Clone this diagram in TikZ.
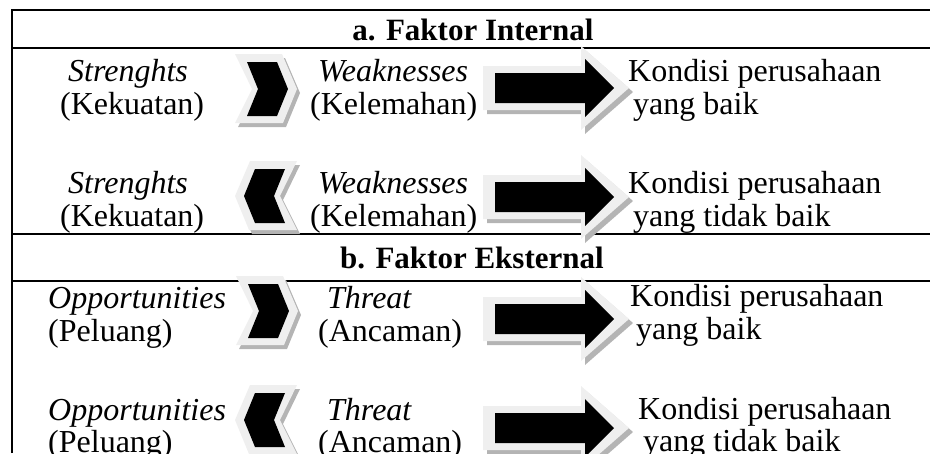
\documentclass[tikz,border=0pt]{standalone}
\usepackage{fontspec}
\setmainfont{Liberation Serif}
\definecolor{glowc}{HTML}{EFEFEF}
\definecolor{shadc}{HTML}{B4B4B4}
\begin{document}
\begin{tikzpicture}[x=1pt,y=-1pt,
  txt/.style={anchor=base west,inner sep=0pt,font=\fontsize{32}{34}\selectfont},
  hdr/.style={anchor=base,inner sep=0pt,font=\fontsize{31}{33}\selectfont\bfseries},
  frame/.style={line width=2pt},
  shad/.style={fill=shadc},
  glow/.style={fill=glowc},
  blk/.style={fill=black},
  rchev/.pic={
    \path[shad,shift={(3,4)}] (-32,-35) -- (15,-35) -- (30,0) -- (16,34) -- (-32,34) -- (-15,0) -- cycle;
    \path[glow] (-32,-35) -- (15,-35) -- (30,0) -- (16,34) -- (-32,34) -- (-15,0) -- cycle;
    \path[blk] (-20,-27) -- (10,-27) -- (21,0) -- (10,27) -- (-20,27) -- (-9,0) -- cycle;
  },
  lchev/.pic={
    \path[shad,shift={(3,4)}] (32,-35) -- (-15,-35) -- (-30,0) -- (-16,34) -- (32,34) -- (15,0) -- cycle;
    \path[glow] (32,-35) -- (-15,-35) -- (-30,0) -- (-16,34) -- (32,34) -- (15,0) -- cycle;
    \path[blk] (20,-27) -- (-10,-27) -- (-21,0) -- (-10,27) -- (20,27) -- (9,0) -- cycle;
  },
  barrow/.pic={
    \path[shad,shift={(4,4)}] (-12,-22) -- (86,-22) -- (86,-42) -- (134,0) -- (86,42) -- (86,22) -- (-12,22) -- cycle;
    \path[glow] (-12,-22) -- (86,-22) -- (86,-42) -- (134,0) -- (86,42) -- (86,22) -- (-12,22) -- cycle;
    \path[blk] (0,-15) -- (90,-15) -- (90,-29) -- (119,0) -- (90,29) -- (90,15) -- (0,15) -- cycle;
  }]
\useasboundingbox (0,0) rectangle (930,453);

% frame
\draw[frame] (12,453) -- (12,10) -- (930,10);
\draw[frame] (12,48) -- (930,48);
\draw[frame] (12,234) -- (930,234);
\draw[frame] (12,281) -- (930,281);

% headers
\node[hdr] (ha) at (473,40) {a. Faktor Internal};
\node[hdr] (hb) at (472,268) {b. Faktor Eksternal};

% shapes
\pic at (267,89) {rchev};
\pic at (265,196) {lchev};
\pic at (268,311) {rchev};
\pic at (265,420) {lchev};
\pic at (495,88) {barrow};
\pic at (495,197) {barrow};
\pic at (495,319) {barrow};
\pic at (495,428) {barrow};

% row 1
\node[txt] (s1) at (68,81) {\textit{Strenghts}};
\node[txt] (k1) at (60,114) {(Kekuatan)};
\node[txt] (w1) at (318,81) {\textit{Weaknesses}};
\node[txt] (l1) at (310,114) {(Kelemahan)};
\node[txt] (c1) at (628,81) {Kondisi perusahaan};
\node[txt] (y1) at (633,114) {yang baik};
% row 2
\node[txt] (s2) at (68,193) {\textit{Strenghts}};
\node[txt] (k2) at (60,226) {(Kekuatan)};
\node[txt] (w2) at (318,193) {\textit{Weaknesses}};
\node[txt] (l2) at (310,226) {(Kelemahan)};
\node[txt] (c2) at (628,193) {Kondisi perusahaan};
\node[txt] (y2) at (633,226) {yang tidak baik};
% row 3
\node[txt] (o3) at (48,308) {\textit{Opportunities}};
\node[txt] (p3) at (48,341) {(Peluang)};
\node[txt] (t3) at (327,308) {\textit{Threat}};
\node[txt] (a3) at (318,341) {(Ancaman)};
\node[txt] (c3) at (630,306) {Kondisi perusahaan};
\node[txt] (y3) at (636,339) {yang baik};
% row 4
\node[txt] (o4) at (48,420) {\textit{Opportunities}};
\node[txt] (p4) at (48,452) {(Peluang)};
\node[txt] (t4) at (327,420) {\textit{Threat}};
\node[txt] (a4) at (318,452) {(Ancaman)};
\node[txt] (c4) at (638,419) {Kondisi perusahaan};
\node[txt] (y4) at (643,451) {yang tidak baik};
\end{tikzpicture}
\end{document}
